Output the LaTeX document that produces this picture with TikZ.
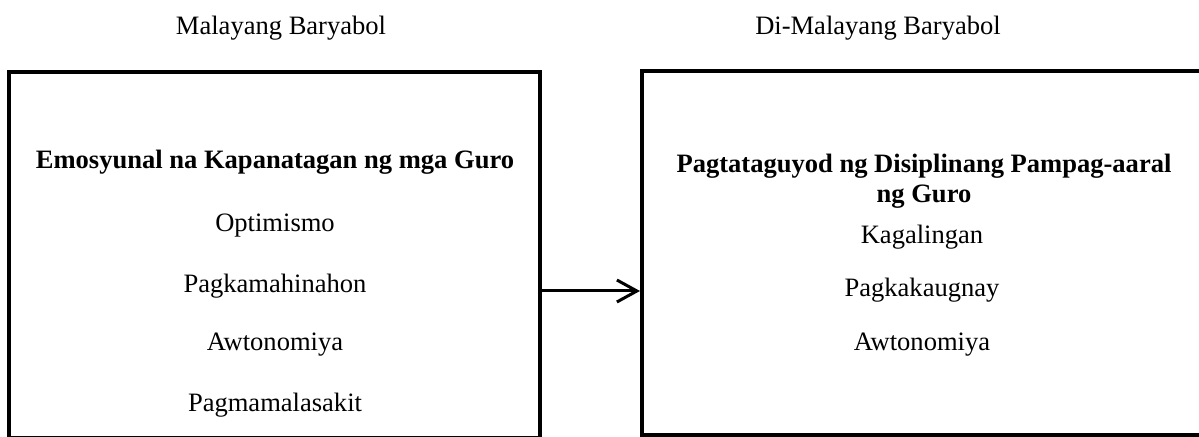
\documentclass[tikz,border=0pt]{standalone}
\usepackage{fontspec}
\setmainfont{Liberation Serif}
\usetikzlibrary{arrows.meta, positioning}
\def\px{0.452pt}

\begin{document}
\begin{tikzpicture}[x=0.452pt, y=-0.452pt, font=\fontsize{12}{13.8}\selectfont,
  box/.style={draw, line width=4*\px, inner sep=0pt},
  arr/.style={line width=3*\px, -{Straight Barb[length=20*\px, width=22*\px, line width=3*\px]}}]
\useasboundingbox (0,0) rectangle (1199,437);

\node (malayaTitle) at (281,28) {Malayang Baryabol};
\node (dimalayaTitle) at (878,28) {Di-Malayang Baryabol};

\node[box, minimum width=531*\px, minimum height=366*\px] (malaya) at (274.5,255.5) {};
\node[box, minimum width=566*\px, minimum height=364*\px] (dimalaya) at (925,253) {};

\node[font=\fontsize{12}{13.8}\selectfont\bfseries] (emosyunal) at (275,162) {Emosyunal na Kapanatagan ng mga Guro};
\node (optimismo) at (275,226) {Optimismo};
\node (mahinahon) at (275,286) {Pagkamahinahon};
\node (awtonomiyaA) at (275,345) {Awtonomiya};
\node (malasakit) at (275,405) {Pagmamalasakit};

\node[font=\fontsize{12}{13.8}\selectfont\bfseries, align=center] (disiplina) at (924,181) {Pagtataguyod ng Disiplinang Pampag-aaral\\ng Guro};
\node (kagalingan) at (922,237) {Kagalingan};
\node (ugnay) at (922,290) {Pagkakaugnay};
\node (awtonomiyaB) at (922,345) {Awtonomiya};

\draw[arr] (malaya.east |- 0,291) -- (dimalaya.west |- 0,291);
\end{tikzpicture}
\end{document}
